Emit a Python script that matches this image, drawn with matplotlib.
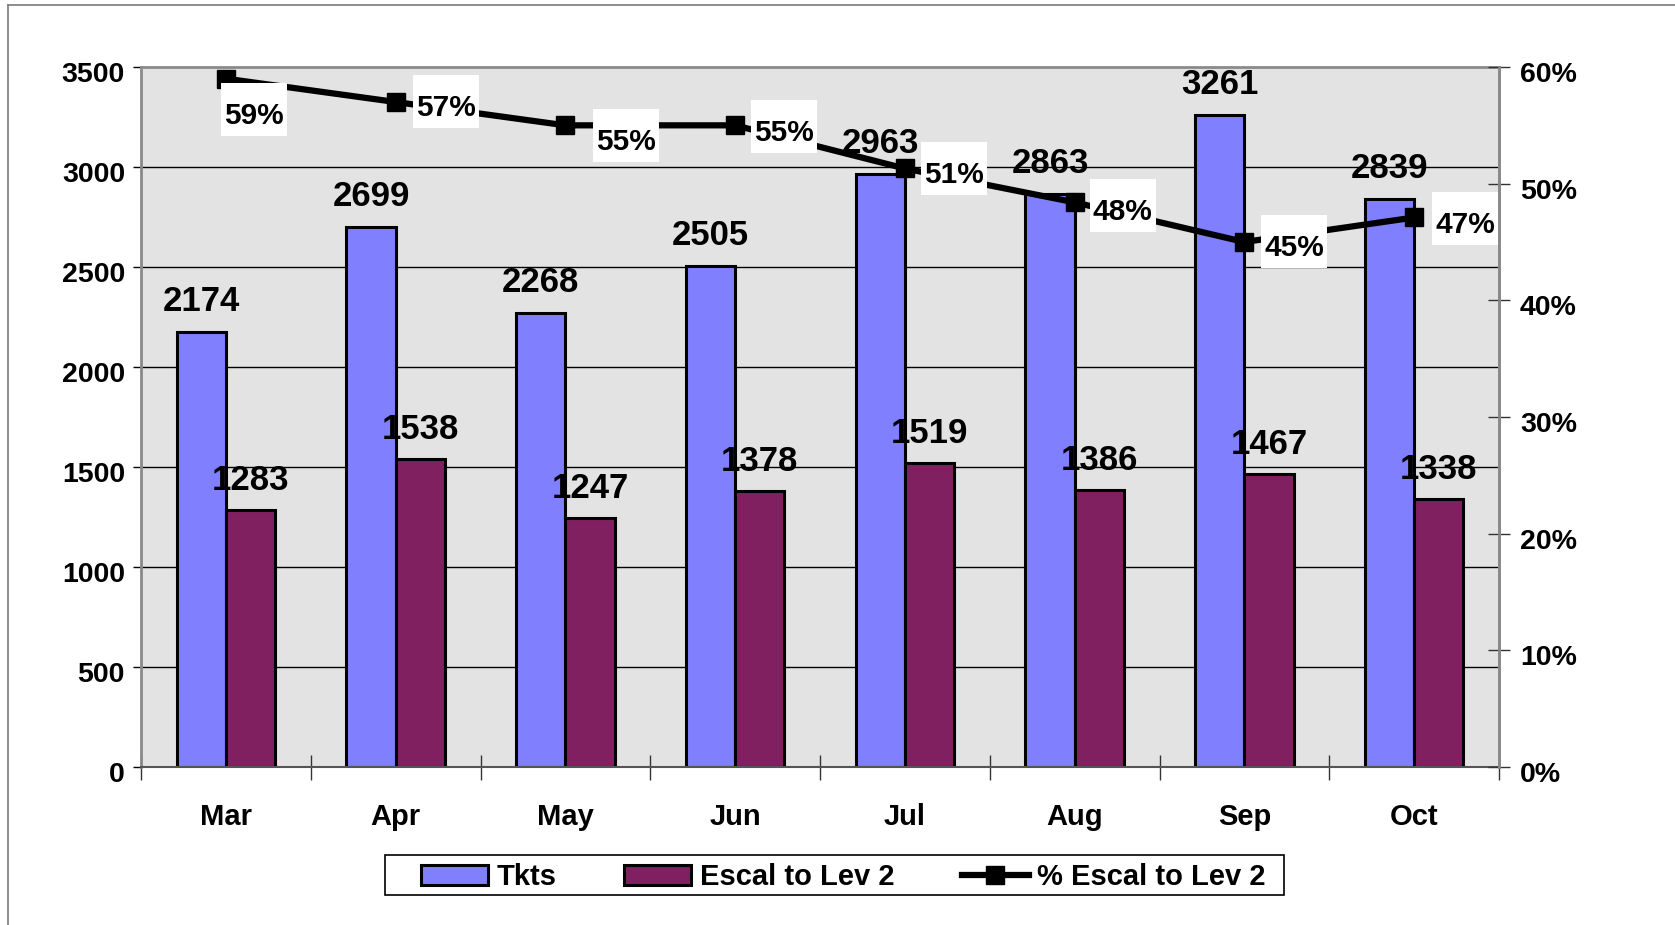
import matplotlib
matplotlib.use("Agg")
import matplotlib.pyplot as plt
import matplotlib.transforms as mtransforms
from matplotlib.patches import Rectangle
from matplotlib.lines import Line2D
import numpy as np

months = ["Mar", "Apr", "May", "Jun", "Jul", "Aug", "Sep", "Oct"]
tkts = [2174, 2699, 2268, 2505, 2963, 2863, 3261, 2839]
escal = [1283, 1538, 1247, 1378, 1519, 1386, 1467, 1338]
pct_escal = [59.0, 57.0, 55.0, 55.0, 51.3, 48.4, 45.0, 47.1]
left_ticks = [0, 500, 1000, 1500, 2000, 2500, 3000, 3500]
right_ticks = [0, 10, 20, 30, 40, 50, 60]

plt.rcParams['font.family'] = ['Liberation Sans', 'DejaVu Sans']
plt.rcParams['font.weight'] = 'bold'

W, H = 1675, 925
DPI = 100
fig = plt.figure(figsize=(W / DPI, H / DPI), dpi=DPI)
fig.patch.set_facecolor('white')

# figure border (left and top)
fig.add_artist(Line2D([8 / W, 8 / W], [0, 1 - 5 / H], transform=fig.transFigure, color='#7a7a7a', lw=1.2))
fig.add_artist(Line2D([8 / W, 1], [1 - 5 / H, 1 - 5 / H], transform=fig.transFigure, color='#7a7a7a', lw=1.2))

L, R, T, B = 141, 1499, 67, 767
ax = fig.add_axes([L / W, (H - B) / H, (R - L) / W, (B - T) / H])
ax.set_facecolor('#e3e3e3')

x = np.arange(len(months))
bw = 0.29
blue = '#8080ff'
maroon = '#802060'

ax.set_xlim(-0.5, len(months) - 0.5)
ax.set_ylim(0, 3500)

for yv in left_ticks[1:-1]:
    ax.axhline(yv, color='black', lw=1.0, zorder=1)

b1 = ax.bar(x - bw / 2, tkts, width=bw, color=blue, edgecolor='black', linewidth=2.2, zorder=2)
b2 = ax.bar(x + bw / 2, escal, width=bw, color=maroon, edgecolor='black', linewidth=2.2, zorder=2)

for xi, v in zip(x, tkts):
    ax.annotate(str(v), (xi - bw / 2, v), xytext=(0, 21 * 0.72), textcoords='offset points',
                ha='center', va='baseline', fontsize=25, fontweight='bold', clip_on=False, zorder=5)
for xi, v in zip(x, escal):
    ax.annotate(str(v), (xi + bw / 2, v), xytext=(0, 20 * 0.72), textcoords='offset points',
                ha='center', va='baseline', fontsize=25, fontweight='bold', clip_on=False, zorder=5)

# left axis ticks, labels drawn as text (slightly below tick, as in the original)
ax.set_yticks(left_ticks)
ax.set_yticklabels([])
ax.tick_params(axis='y', length=6, width=1, direction='out', color='black')
for t in left_ticks:
    ax.annotate(str(t), (0, t), xycoords=('axes fraction', 'data'), xytext=(-16 * 0.72, -15 * 0.72),
                textcoords='offset points', ha='right', va='baseline', fontsize=20.5,
                fontweight='bold', annotation_clip=False)

ax.set_xticks(x)
ax.set_xticklabels(months, fontsize=21, fontweight='bold')
ax.tick_params(axis='x', which='major', length=0, pad=26)
ax.set_xticks(np.arange(-0.5, len(months), 1.0), minor=True)
ax.tick_params(axis='x', which='minor', length=18, direction='inout', width=1, color='#333333')

for s in ['left', 'right', 'top']:
    ax.spines[s].set_color('#8a8a8a')
    ax.spines[s].set_linewidth(2)
ax.spines['bottom'].set_color('#555555')
ax.spines['bottom'].set_linewidth(1.5)

ax2 = ax.twinx()
ax2.set_ylim(0, 60)
ax2.set_yticks(right_ticks)
ax2.set_yticklabels([])
ax2.tick_params(axis='y', length=16, width=1, direction='inout', color='#333333')
for t in right_ticks:
    ax2.annotate(f"{t}%", (1, t), xycoords=('axes fraction', 'data'), xytext=(21 * 0.72, -15 * 0.72),
                 textcoords='offset points', ha='left', va='baseline', fontsize=20.5,
                 fontweight='bold', annotation_clip=False)
for s in ['left', 'right', 'top', 'bottom']:
    ax2.spines[s].set_visible(False)
ax2.spines['right'].set_visible(True)
ax2.spines['right'].set_color('#8a8a8a')
ax2.spines['right'].set_linewidth(2)

ax2.plot(x, pct_escal, color='black', lw=4.5, marker='s', markersize=13,
         markerfacecolor='black', markeredgecolor='black', zorder=3, clip_on=False)

# label offsets in pixels (dx right, dy down) from marker to text visual centre
label_offsets = [(28, 35), (50, 4), (61, 14), (49, 5), (49, 4), (48, 7), (50, 4), (51, 5)]
for xi, v, (dx, dy) in zip(x, pct_escal, label_offsets):
    trans = fig.dpi_scale_trans + mtransforms.ScaledTranslation(xi, v, ax2.transData)
    bw_px, bh_px = 66, 53
    cx, cy = dx, -dy + 4
    rect = Rectangle(((cx - bw_px / 2) / DPI, (cy - bh_px / 2) / DPI), bw_px / DPI, bh_px / DPI,
                     transform=trans, facecolor='white', edgecolor='none', zorder=6, clip_on=False)
    ax2.add_artist(rect)
    ax2.text(dx / DPI, (-dy - 10.5) / DPI, f"{round(v):d}%", transform=trans, ha='center', va='baseline',
             fontsize=21.5, fontweight='bold', zorder=7, clip_on=False)

# legend frame drawn explicitly
fig.add_artist(Rectangle((385 / W, 1 - 895 / H), (1284 - 385) / W, 40 / H, transform=fig.transFigure,
                         facecolor='white', edgecolor='black', lw=1.2, zorder=1))
handles = [b1, b2, Line2D([], [], color='black', lw=4.5, marker='s', markersize=13)]
leg = fig.legend(handles, ["Tkts", "Escal to Lev 2", "% Escal to Lev 2"], ncol=3,
                 loc='center', bbox_to_anchor=((424 + 1263) / 2 / W, 1 - 877 / H),
                 frameon=False, handlelength=2.3, handletextpad=0.3, columnspacing=2.3,
                 borderpad=0.1, prop={'weight': 'bold', 'size': 21})
leg.set_zorder(2)

fig.savefig("out.png", dpi=DPI, facecolor='white')
